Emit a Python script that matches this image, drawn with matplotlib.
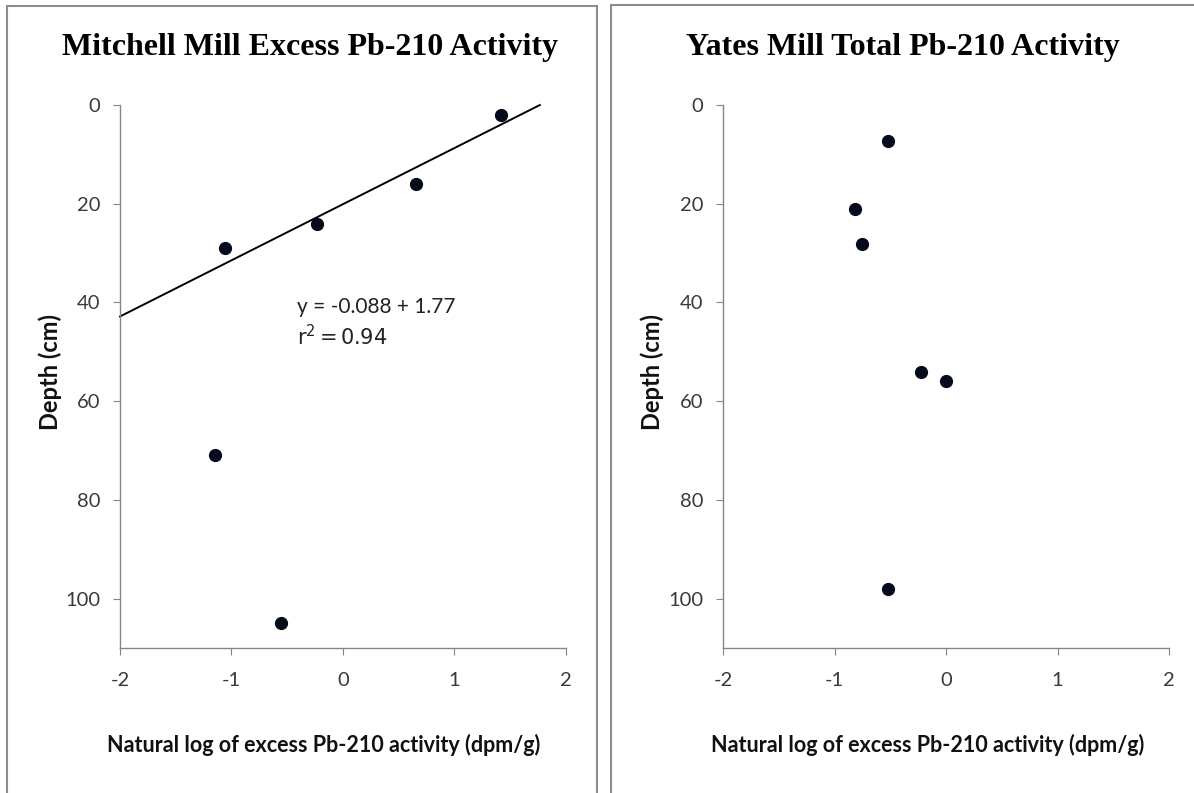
import matplotlib.pyplot as plt
import numpy as np
from matplotlib.patches import Rectangle

plt.rcParams['axes.unicode_minus'] = False
plt.rcParams['mathtext.fontset'] = 'custom'
plt.rcParams['mathtext.rm'] = 'Lato'
plt.rcParams['mathtext.it'] = 'Lato'

# Mitchell Mill: ln(excess Pb-210) vs depth
mitchell_lnpb = [1.42, 0.66, -0.23, -1.06, -1.15, -0.55]
mitchell_depth = [2.0, 16.0, 24.1, 28.9, 70.9, 104.9]

# fitted line: ln(A) = -0.088 * depth + 1.77
fit_slope = -0.088
fit_intercept = 1.77

# Yates Mill: ln(total Pb-210) vs depth
yates_lnpb = [-0.52, -0.82, -0.75, -0.22, 0.0, -0.52]
yates_depth = [7.3, 21.1, 28.1, 54.0, 55.9, 98.0]

xticks = [-2, -1, 0, 1, 2]
yticks = [0, 20, 40, 60, 80, 100]

W, H = 1194, 793
fig = plt.figure(figsize=(W / 100, H / 100), dpi=100)
fig.patch.set_facecolor('white')

tick_font = 'Lato'
grey = '#868686'
dot = '#050a1c'


def px(x0, y0, x1, y1):
    # pixel box -> figure fraction [left, bottom, width, height]
    return [x0 / W, 1 - y1 / H, (x1 - x0) / W, (y1 - y0) / H]


def setup(ax):
    ax.set_xlim(-2, 2)
    ax.set_ylim(110, 0)
    ax.set_xticks(xticks)
    ax.set_yticks(yticks)
    for s in ('top', 'right'):
        ax.spines[s].set_visible(False)
    for s in ('left', 'bottom'):
        ax.spines[s].set_color(grey)
        ax.spines[s].set_linewidth(1.0)
    ax.tick_params(axis='both', direction='out', length=5, color=grey,
                   labelsize=14.5, labelcolor='#3a3a3a')
    ax.tick_params(axis='x', pad=12)
    ax.tick_params(axis='y', pad=9)
    for lab in ax.get_xticklabels() + ax.get_yticklabels():
        lab.set_family(tick_font)


# panel frames
fig.add_artist(Rectangle((7 / W, -0.01), 590 / W, 1 - 6 / H + 0.01,
                         transform=fig.transFigure, fill=False,
                         edgecolor='#8c8c8c', linewidth=1.5))
fig.add_artist(Rectangle((611 / W, -0.01), 600 / W, 1 - 5 / H + 0.01,
                         transform=fig.transFigure, fill=False,
                         edgecolor='#8c8c8c', linewidth=1.5))

# left panel
ax1 = fig.add_axes(px(120, 105, 565.5, 648))
setup(ax1)
ax1.plot(mitchell_lnpb, mitchell_depth, 'o', color=dot, markersize=8.5,
         clip_on=False)
line_x = np.array([-2, fit_intercept])
line_depth = (line_x - fit_intercept) / fit_slope
ax1.plot(line_x, line_depth, color='black', linewidth=1.4, clip_on=False)
ax1.text(-0.41, 41, 'y = -0.088 + 1.77', fontsize=15, family=tick_font,
         color='#222222', va='center', ha='left')
ax1.text(-0.41, 47, r'$\mathregular{r^2 = 0.94}$', fontsize=15,
         color='#222222', va='center', ha='left')

# right panel
ax2 = fig.add_axes(px(723, 105, 1169, 648))
setup(ax2)
ax2.plot(yates_lnpb, yates_depth, 'o', color=dot, markersize=8.5,
         clip_on=False)

# titles
fig.text(310 / W, 1 - 47 / H, 'Mitchell Mill Excess Pb-210 Activity',
         family='Liberation Serif', weight='bold', fontsize=23,
         ha='center', va='center')
fig.text(903 / W, 1 - 47 / H, 'Yates Mill Total Pb-210 Activity',
         family='Liberation Serif', weight='bold', fontsize=23,
         ha='center', va='center')

# axis labels
xlab = 'Natural log of excess Pb-210 activity (dpm/g)'
for cx in (324, 928):
    fig.text(cx / W, 1 - 745 / H, xlab, family=tick_font, weight='bold',
             fontsize=15.5, ha='center', va='center', color='#111111')
for cx in (50, 652):
    fig.text(cx / W, 1 - 372 / H, 'Depth (cm)', family=tick_font,
             weight='bold', fontsize=17, rotation=90, ha='center',
             va='center', color='#111111')

fig.savefig('out.png', dpi=100)
